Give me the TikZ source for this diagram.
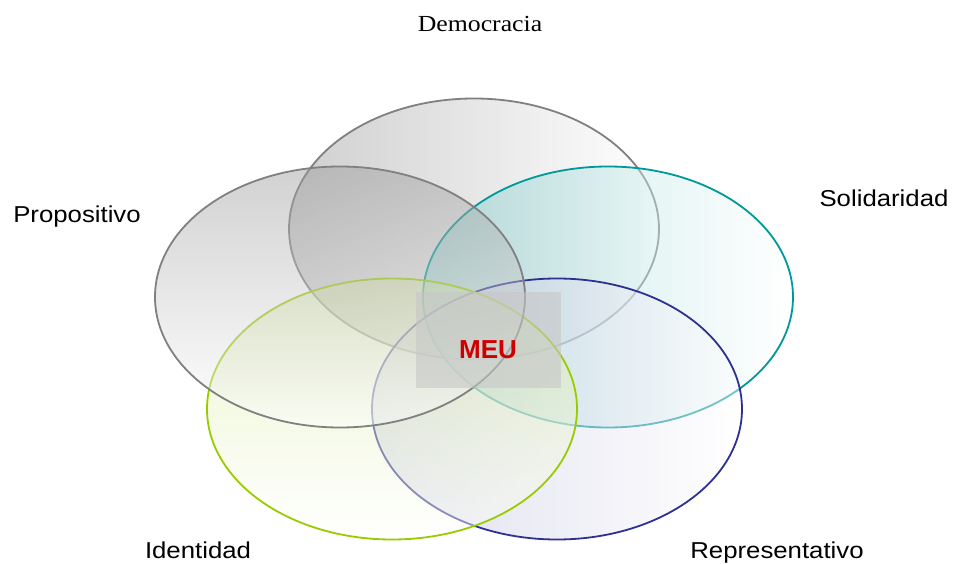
\documentclass[tikz,border=0pt]{standalone}
\usepackage{fontspec}
\setmainfont{Liberation Serif}
\newfontfamily\arial{Liberation Sans}
\usetikzlibrary{shapes.geometric,positioning}

\definecolor{vgray}{HTML}{808080}
\definecolor{vteal}{HTML}{009999}
\definecolor{vgreen}{HTML}{99CC00}
\definecolor{vnavy}{HTML}{2E3192}
\definecolor{meured}{HTML}{CC0000}

\newcommand{\wide}[1]{\scalebox{1.12}[1]{#1}}

\tikzset{
  venn/.style={ellipse, minimum width=370pt, minimum height=261pt,
    inner sep=0pt, line width=1.8pt, fill opacity=0.45},
  lbl/.style={anchor=base, inner sep=0pt, font=\arial\fontsize{23}{23}\selectfont},
}

\begin{document}
\begin{tikzpicture}[x=1pt,y=-1pt]
    \useasboundingbox (0,0) rectangle (956,564);
    % circles, back to front
    \node[venn,draw=vgray,left color=black!42,right color=white] (democ) at (474,229) {};
    \node[venn,draw=vteal,left color=vteal!55!white,middle color=vteal!12!white,right color=white] (solid) at (608,297) {};
    \node[venn,draw=vnavy,left color=vnavy!35!white,right color=white] (repre) at (557,409) {};
    \node[venn,draw=vgreen,top color=vgreen!45!white,bottom color=white] (ident) at (392,409) {};
    \node[venn,draw=vgray,top color=black!40,bottom color=white] (propo) at (340,297) {};
    % centre
    \node[fill=black!22,fill opacity=0.6,minimum width=145pt,minimum height=96pt,inner sep=0pt] (core) at (488.5,340) {};
    \node[anchor=base,text=meured,font=\arial\bfseries\fontsize{26}{26}\selectfont] (meu) at (488,358) {MEU};
    % labels
    \node[lbl,font=\fontsize{23}{23}\selectfont] (tdemoc) at (480,32) {\wide{Democracia}};
    \node[lbl] (tpropo) at (77,223) {\wide{Propositivo}};
    \node[lbl] (tsolid) at (884,207) {\wide{Solidaridad}};
    \node[lbl] (tident) at (198,558) {\wide{Identidad}};
    \node[lbl] (trepre) at (777,558) {\wide{Representativo}};
\end{tikzpicture}
\end{document}
